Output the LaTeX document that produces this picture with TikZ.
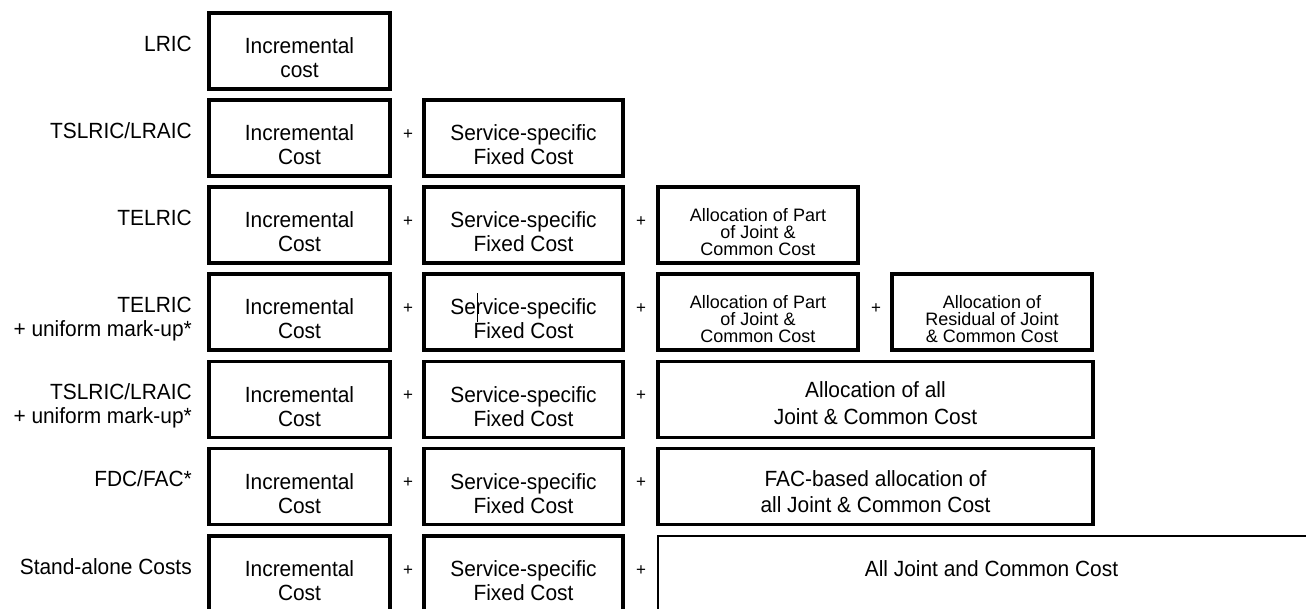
\documentclass[tikz,border=0pt]{standalone}
\usepackage{fontspec}
\setmainfont{Liberation Sans}[FakeStretch=0.95]
\newfontfamily\plainsans{Liberation Sans}
% text sizes used in the chart
\newcommand\bigtext{\fontsize{22}{24}\selectfont}
\newcommand\widetext{\fontsize{22}{27}\selectfont}
\newcommand\factext{\fontsize{22}{26}\selectfont}
\newcommand\smalltext{\plainsans\fontsize{18}{16.7}\selectfont\lineskiplimit=-20pt\lineskip=0pt}
\newcommand\plustext{\plainsans\fontsize{17}{17}\selectfont}
% fixed-height strut so the first baseline sits 20pt below a node's north anchor
\newcommand\hstr{\rule{0pt}{20pt}}

\tikzset{
  costbox/.style={draw=black, line width=3.4pt, minimum height=76pt,
    inner sep=0pt, outer sep=0pt, anchor=north west},
  openbox/.style={costbox, draw=none},
  bigtxt/.style={font=\bigtext, align=center, inner sep=0pt, anchor=north, text=black},
  widetxt/.style={font=\widetext, align=center, inner sep=0pt, anchor=north, text=black},
  factxt/.style={font=\factext, align=center, inner sep=0pt, anchor=north, text=black},
  smalltxt/.style={font=\smalltext, align=center, inner sep=0pt, anchor=north, text=black},
  rowlabel/.style={font=\bigtext, align=right, inner sep=0pt, anchor=north east, text=black},
  plus/.style={font=\plustext, inner sep=0pt, anchor=base, text=black},
}

\begin{document}
\begin{tikzpicture}[x=1pt, y=-1pt]
\useasboundingbox (0,0) rectangle (1306,608);
\fill[white] (0,0) rectangle (1306,608);
\clip (0,0) rectangle (1306,608);

% ---------- row 1: LRIC ----------
\node[rowlabel] (l1) at (192,31) {\hstr LRIC};
\node[costbox, minimum width=181pt] (b11) at (209,13) {};
\node[bigtxt] (t11) at ([yshift=-20.5pt]b11.north) {\hstr Incremental\\cost};

% ---------- row 2: TSLRIC/LRAIC ----------
\node[rowlabel] (l2) at (192,118) {\hstr TSLRIC/LRAIC};
\node[costbox, minimum width=181pt] (b21) at (209,100) {};
\node[costbox, minimum width=199pt] (b22) at (424,100) {};
\node[bigtxt] (t21) at ([yshift=-20.5pt]b21.north) {\hstr Incremental\\Cost};
\node[bigtxt] (t22) at ([yshift=-20.5pt]b22.north) {\hstr Service-specific\\Fixed Cost};
\node[plus] (p21) at (408,139) {+};

% ---------- row 3: TELRIC ----------
\node[rowlabel] (l3) at (192,205) {\hstr TELRIC};
\node[costbox, minimum width=181pt] (b31) at (209,187) {};
\node[costbox, minimum width=199pt] (b32) at (424,187) {};
\node[costbox, minimum width=200pt] (b33) at (658,187) {};
\node[bigtxt] (t31) at ([yshift=-20.5pt]b31.north) {\hstr Incremental\\Cost};
\node[bigtxt] (t32) at ([yshift=-20.5pt]b32.north) {\hstr Service-specific\\Fixed Cost};
\node[smalltxt] (t33) at ([yshift=-14.5pt]b33.north) {\hstr Allocation of Part\\of Joint \&\\Common Cost};
\node[plus] (p31) at (408,226) {+};
\node[plus] (p32) at (641,226) {+};

% ---------- row 4: TELRIC + uniform mark-up ----------
\node[rowlabel] (l4) at (192,292) {\hstr TELRIC\\+ uniform mark-up*};
\node[costbox, minimum width=181pt] (b41) at (209,274) {};
\node[costbox, minimum width=199pt] (b42) at (424,274) {};
\node[costbox, minimum width=200pt] (b43) at (658,274) {};
\node[costbox, minimum width=200pt] (b44) at (892,274) {};
\node[bigtxt] (t41) at ([yshift=-20.5pt]b41.north) {\hstr Incremental\\Cost};
\node[bigtxt] (t42) at ([yshift=-20.5pt]b42.north) {\hstr Service-specific\\Fixed Cost};
\node[smalltxt] (t43) at ([yshift=-14.5pt]b43.north) {\hstr Allocation of Part\\of Joint \&\\Common Cost};
\node[smalltxt] (t44) at ([yshift=-14.5pt]b44.north) {\hstr Allocation of\\Residual of Joint\\\& Common Cost};
\node[plus] (p41) at (408,313) {+};
\node[plus] (p42) at (641,313) {+};
\node[plus] (p43) at (876,313) {+};
% text cursor left inside the second box
\draw[line width=1.2pt] (477.7,293) -- (477.7,322);

% ---------- row 5: TSLRIC/LRAIC + uniform mark-up ----------
\node[rowlabel] (l5) at (192,379.5) {\hstr TSLRIC/LRAIC\\+ uniform mark-up*};
\node[costbox, minimum width=181pt] (b51) at (209,361.5) {};
\node[costbox, minimum width=199pt] (b52) at (424,361.5) {};
\node[costbox, minimum width=435pt] (b53) at (658,361.5) {};
\node[bigtxt] (t51) at ([yshift=-20.5pt]b51.north) {\hstr Incremental\\Cost};
\node[bigtxt] (t52) at ([yshift=-20.5pt]b52.north) {\hstr Service-specific\\Fixed Cost};
\node[widetxt] (t53) at ([yshift=-16pt]b53.north) {\hstr Allocation of all\\Joint \& Common Cost};
\node[plus] (p51) at (408,400.5) {+};
\node[plus] (p52) at (641,400.5) {+};

% ---------- row 6: FDC/FAC ----------
\node[rowlabel] (l6) at (192,466.5) {\hstr FDC/FAC*};
\node[costbox, minimum width=181pt] (b61) at (209,448.5) {};
\node[costbox, minimum width=199pt] (b62) at (424,448.5) {};
\node[costbox, minimum width=435pt] (b63) at (658,448.5) {};
\node[bigtxt] (t61) at ([yshift=-20.5pt]b61.north) {\hstr Incremental\\Cost};
\node[bigtxt] (t62) at ([yshift=-20.5pt]b62.north) {\hstr Service-specific\\Fixed Cost};
\node[factxt] (t63) at ([yshift=-18pt]b63.north) {\hstr FAC-based allocation of\\all Joint \& Common Cost};
\node[plus] (p61) at (408,487.5) {+};
\node[plus] (p62) at (641,487.5) {+};

% ---------- row 7: Stand-alone costs ----------
\node[rowlabel] (l7) at (192,554) {\hstr Stand-alone Costs};
\node[costbox, minimum width=181pt] (b71) at (209,536) {};
\node[costbox, minimum width=199pt] (b72) at (424,536) {};
\node[openbox, minimum width=667pt] (b73) at (658,536) {};
\draw[line width=2.2pt] (b73.south west) -- (b73.north west) -- (b73.north east);
\node[bigtxt] (t71) at ([yshift=-20.5pt]b71.north) {\hstr Incremental\\Cost};
\node[bigtxt] (t72) at ([yshift=-20.5pt]b72.north) {\hstr Service-specific\\Fixed Cost};
\node[bigtxt] (t73) at ([yshift=-20pt]b73.north) {\hstr All Joint and Common Cost};
\node[plus] (p71) at (408,575) {+};
\node[plus] (p72) at (641,575) {+};
\end{tikzpicture}
\end{document}
